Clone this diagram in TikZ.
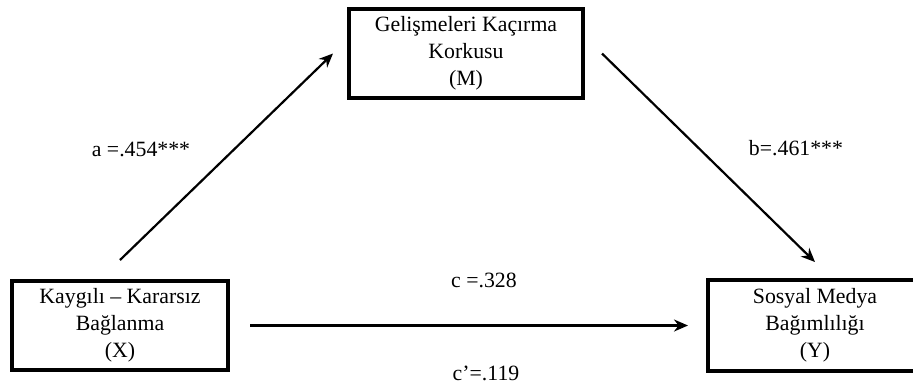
\documentclass[tikz,border=0pt]{standalone}
\usepackage{fontspec}
\setmainfont{Liberation Serif}
\usetikzlibrary{arrows.meta}
\begin{document}
\begin{tikzpicture}[x=0.5pt,y=-0.5pt,
box/.style={draw,line width=2pt,align=center,inner sep=0pt,minimum height=44.5pt,font=\fontsize{10.9}{13.5}\selectfont},
lab/.style={font=\fontsize{10.9}{13}\selectfont},
path/.style={line width=1.1pt,->,>={Stealth[length=7pt,width=6pt]}}]
\useasboundingbox (0,0) rectangle (913,387);
\node (m) at (466,53.5) [box,minimum width=117pt] {Gelişmeleri Kaçırma\\Korkusu\\(M)};
\node (x) at (120,325.5) [box,minimum width=108pt] {Kaygılı – Kararsız\\Bağlanma\\(X)};
\node (y) at (815,325.5) [box,minimum width=107pt,minimum height=45.5pt] {Sosyal Medya\\Bağımlılığı\\(Y)};
\coordinate (as) at ([yshift=9.5pt]x.north);
\coordinate (ae) at ([xshift=-7pt]m.west);
\coordinate (bs) at ([xshift=8.5pt]m.east);
\coordinate (be) at ([yshift=8pt]y.north);
\draw[path] (as) -- (ae);
\draw[path] (bs) -- (be);
\draw[path,shorten <=10pt,shorten >=9pt] (x.east) -- (y.west);
\node (la) at (141,149) [lab] {a =.454***};
\node (lb) at (796,148) [lab] {b=.461***};
\node (lc) at (484,280) [lab] {c =.328};
\node (lcc) at (486,373) [lab] {c’=.119};
\end{tikzpicture}
\end{document}
